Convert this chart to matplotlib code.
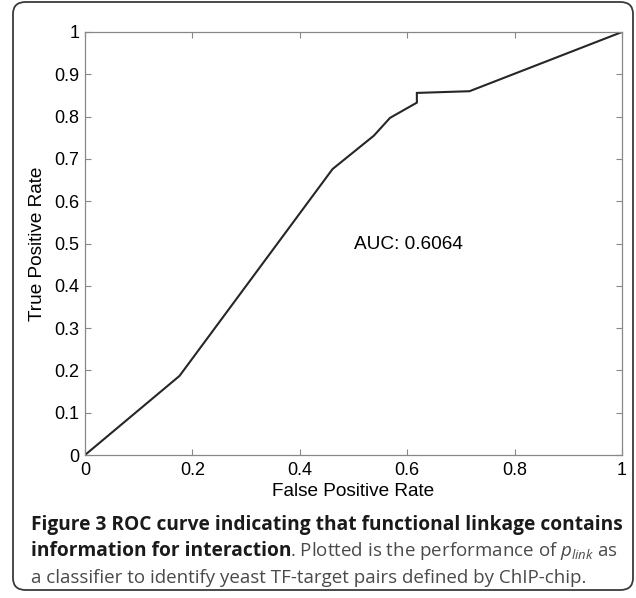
import matplotlib
matplotlib.use("Agg")
import matplotlib.pyplot as plt
from matplotlib.patches import FancyBboxPatch

# ---- data ----
fpr = [0.0, 0.176, 0.461, 0.538, 0.568, 0.618, 0.618, 0.716, 1.0]
tpr = [0.0, 0.187, 0.676, 0.755, 0.797, 0.833, 0.856, 0.860, 1.0]
auc_label = "AUC: 0.6064"
x_ticks = [0, 0.2, 0.4, 0.6, 0.8, 1]
x_tick_labels = ["0", "0.2", "0.4", "0.6", "0.8", "1"]
y_ticks = [0, 0.1, 0.2, 0.3, 0.4, 0.5, 0.6, 0.7, 0.8, 0.9, 1]
y_tick_labels = ["0", "0.1", "0.2", "0.3", "0.4", "0.5", "0.6", "0.7", "0.8", "0.9", "1"]
x_label = "False Positive Rate"
y_label = "True Positive Rate"

plt.rcParams['mathtext.fontset'] = 'custom'
plt.rcParams['mathtext.it'] = 'Open Sans:italic'
plt.rcParams['mathtext.rm'] = 'Open Sans'

W, H = 636, 598
fig = plt.figure(figsize=(W / 100, H / 100), dpi=100)
fig.patch.set_facecolor("white")

# rounded outer frame
frame = FancyBboxPatch((13 / W, 8 / H), (633 - 13) / W, (596 - 8) / H,
                       boxstyle="round,pad=0,rounding_size=0.02",
                       transform=fig.transFigure, facecolor="none",
                       edgecolor="#3a3a3a", linewidth=1.3)
fig.patches.append(frame)

ax = fig.add_axes([85 / W, (H - 455) / H, (622 - 85) / W, (455 - 32) / H])
ax.plot(fpr, tpr, color="#262626", linewidth=1.5, solid_joinstyle="miter")
ax.set_xlim(0, 1)
ax.set_ylim(0, 1)

font = "Liberation Sans"
tfs = 13
lfs = 13.7
ax.set_xticks(x_ticks)
ax.set_xticklabels(x_tick_labels, fontfamily=font, fontsize=tfs)
ax.set_yticks(y_ticks)
ax.set_yticklabels(y_tick_labels, fontfamily=font, fontsize=tfs)
ax.tick_params(direction="in", length=4, width=0.8, color="#888888",
               top=True, right=True)
ax.tick_params(axis="x", pad=5)
ax.tick_params(axis="y", pad=4)
for s in ax.spines.values():
    s.set_color("#888888")
    s.set_linewidth(0.9)

ax.set_xlabel(x_label, fontfamily=font, fontsize=lfs, va="center")
ax.xaxis.set_label_coords(0.5, (455 - 491) / 423)
ax.set_ylabel(y_label, fontfamily=font, fontsize=lfs, va="center")
ax.yaxis.set_label_coords((38 - 85) / 537, 0.5)

ax.text(0.50, 0.498, auc_label, fontfamily=font, fontsize=lfs,
        ha="left", va="center")

# ---- caption ----
cap_font = "Open Sans"
bfs = 13.8
rfs = 13.5
bold_col = "#1a1a1a"
reg_col = "#4a4a4a"
left = 31 / W
fig.text(left, 1 - 530 / H,
         "Figure 3 ROC curve indicating that functional linkage contains",
         fontfamily=cap_font, fontweight="bold", fontsize=bfs, color=bold_col,
         va="baseline", ha="left")
t1 = fig.text(left, 1 - 556 / H, "information for interaction",
              fontfamily=cap_font, fontweight="bold", fontsize=bfs,
              color=bold_col, va="baseline", ha="left")
t2 = fig.text(0, 0, ". Plotted is the performance of $p_{link}$ as",
              fontfamily=cap_font, fontsize=rfs, color=reg_col,
              va="baseline", ha="left")
fig.canvas.draw()
r = fig.canvas.get_renderer()
bb = t1.get_window_extent(r)
t2.set_position(((bb.x1 - 2) / W, 1 - 556 / H))
fig.text(left, 1 - 583 / H,
         "a classifier to identify yeast TF-target pairs defined by ChIP-chip.",
         fontfamily=cap_font, fontsize=rfs, color=reg_col,
         va="baseline", ha="left")

fig.savefig("out.png", dpi=100)
